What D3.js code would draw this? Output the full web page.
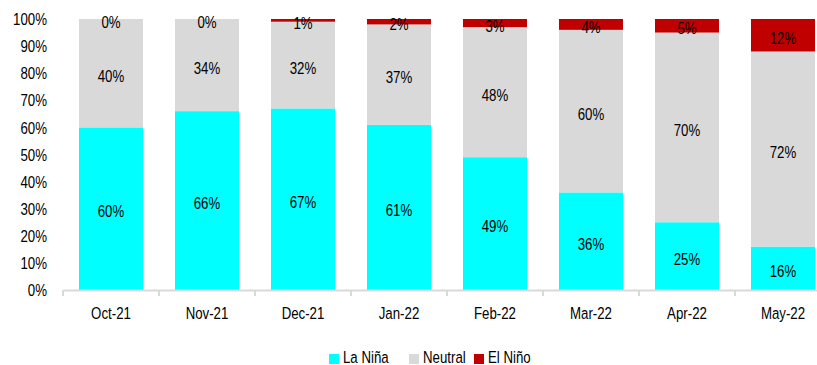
<!DOCTYPE html>
<html><head><meta charset="utf-8">
<script src="https://cdn.jsdelivr.net/npm/d3@7"></script>
<style>
html,body{margin:0;padding:0;background:#fff;}
text{font-family:"Liberation Sans Narrow","Arial Narrow","Liberation Sans",Arial,sans-serif;font-size:17px;fill:#000;}
</style></head>
<body><svg id="c" width="817" height="365"></svg>
<script>
const categories = ["Oct-21","Nov-21","Dec-21","Jan-22","Feb-22","Mar-22","Apr-22","May-22"];
const laNina = [60,66,67,61,49,36,25,16];
const neutral = [40,34,32,37,48,60,70,72];
const elNino = [0,0,1,2,3,4,5,12];
const seriesNames = ["La Niña","Neutral","El Niño"];
const colors = ["#00FFFF","#D9D9D9","#C00000"];
const yTicks = [0,10,20,30,40,50,60,70,80,90,100];

const SX = 0.78; // condensed font emulation
const svg = d3.select("#c");
const x = d3.scaleBand().domain(categories).range([63,831]).paddingInner(1/3).paddingOuter(1/6);
const y = d3.scaleLinear().domain([0,100]).range([290,19]);

function label(g, px, py, txt, anchor, dy){
  return g.append("text")
    .attr("transform", `translate(${px},${py}) scale(${SX},1)`)
    .attr("text-anchor", anchor).attr("dy", dy).text(txt);
}

const rows = categories.map((c,i)=>({cat:c, "La Niña":laNina[i], "Neutral":neutral[i], "El Niño":elNino[i]}));
const stack = d3.stack().keys(seriesNames)(rows);

stack.forEach((s,si)=>{
  svg.append("g").selectAll("rect").data(s).enter().append("rect")
    .attr("x", d=>x(d.data.cat)).attr("width", x.bandwidth())
    .attr("y", d=>y(d[1])).attr("height", d=>y(d[0])-y(d[1]))
    .attr("fill", colors[si]);
});
const lblG = svg.append("g");
stack.forEach((s,si)=>{
  s.forEach(d=>{
    label(lblG, x(d.data.cat)+x.bandwidth()/2, (y(d[0])+y(d[1]))/2, (d[1]-d[0])+"%", "middle", "0.5em");
  });
});

// y axis labels
const yG = svg.append("g");
yTicks.forEach(t=>label(yG, 47, y(t), t+"%", "end", "0.36em"));

// x axis
const xAxis = svg.append("g").attr("transform","translate(0,290)")
  .call(d3.axisBottom(x).tickSize(0).tickPadding(0));
xAxis.select(".domain").attr("stroke","#D9D9D9").attr("stroke-width",2);
xAxis.selectAll(".tick text").attr("y",29).attr("dy",null)
  .attr("transform",`scale(${SX},1)`).style("font-size","17px")
  .style("font-family",'"Liberation Sans Narrow","Arial Narrow","Liberation Sans",Arial,sans-serif')
  .attr("fill","#000");
const bounds = d3.range(categories.length+1).map(i=>63+i*x.step());
svg.append("g").selectAll("line").data(bounds).enter().append("line")
  .attr("x1",d=>d).attr("x2",d=>d).attr("y1",290).attr("y2",296)
  .attr("stroke","#D9D9D9").attr("stroke-width",2);

// legend
const legX = [329,409,474];
const lg = svg.append("g");
seriesNames.forEach((n,i)=>{
  lg.append("rect").attr("x",legX[i]).attr("y",354).attr("width",10).attr("height",10).attr("fill",colors[i]);
  label(lg, legX[i]+14, 363, n, "start", null);
});
</script></body></html>
